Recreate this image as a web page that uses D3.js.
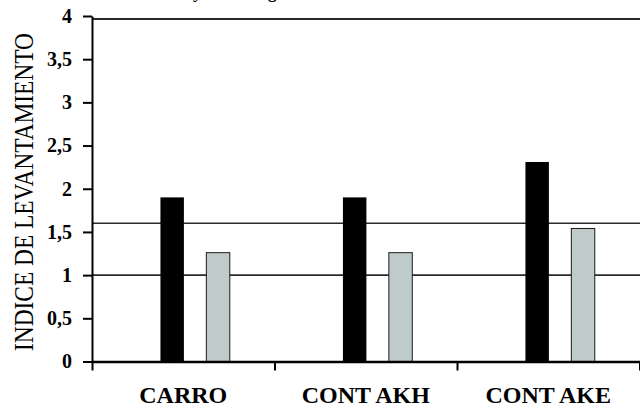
<!DOCTYPE html>
<html>
<head>
<meta charset="utf-8">
<script src="https://cdn.jsdelivr.net/npm/d3@7"></script>
<style>
    body { margin: 0; background: #fff; }
    svg { display: block; width: 640px; height: 412px; }
</style>
</head>
<body>
<svg></svg>
<script>
// Категории и значения
const categories = ["CARRO", "CONT AKH", "CONT AKE"];
const seriesKeys = ["s1", "s2"];
const valuesS1 = [1.9, 1.9, 2.31];
const valuesS2 = [1.26, 1.26, 1.54];
const refLines = [1, 1.6];
const yTicks = [0, 0.5, 1, 1.5, 2, 2.5, 3, 3.5, 4];
const titleText = "Índice de levantamiento y de la carga";
const yTitle = "INDICE DE LEVANTAMIENTO";

const seriesColor = { s1: "#000000", s2: "#bfcbcb" };

function buildData() {
    return categories.map((c, i) => ({
        labelX: c,
        values: { s1: valuesS1[i], s2: valuesS2[i] }
    }));
}

function drawGraph() {
    const data = buildData();
    const svg = d3.select("svg");
    svg.selectAll("*").remove();

    const attr_area = {
        left: 92,
        right: 639.5,
        top: 16,
        bottom: 361.5
    };

    const scX = d3.scaleBand()
        .domain(categories)
        .range([attr_area.left, attr_area.right])
        .padding(0);

    const bw = scX.bandwidth();
    const scInner = d3.scaleBand()
        .domain(seriesKeys)
        .range([bw * 0.375, bw * 0.755])
        .paddingInner(0.489)
        .paddingOuter(0);

    const scY = d3.scaleLinear()
        .domain([0, 4])
        .range([attr_area.bottom, attr_area.top]);

    // тонкие горизонтальные линии
    svg.selectAll(".ref")
        .data(refLines)
        .enter()
        .append("line")
        .attr("class", "ref")
        .attr("x1", attr_area.left)
        .attr("x2", 640)
        .attr("y1", d => scY(d))
        .attr("y2", d => scY(d))
        .style("stroke", "#2a2a2a")
        .style("stroke-width", 1.6);

    svg.append("line")
        .attr("x1", attr_area.left)
        .attr("x2", 640)
        .attr("y1", scY(4) + 3)
        .attr("y2", scY(4) + 3)
        .style("stroke", "#2a2a2a")
        .style("stroke-width", 2);

    // столбики
    const groups = svg.selectAll(".grp")
        .data(data)
        .enter()
        .append("g")
        .attr("class", "grp")
        .attr("transform", d => `translate(${scX(d.labelX)}, 0)`);

    groups.selectAll("rect")
        .data(d => seriesKeys.map(k => ({ key: k, value: d.values[k] })))
        .enter()
        .append("rect")
        .attr("x", d => scInner(d.key))
        .attr("y", d => scY(d.value))
        .attr("width", scInner.bandwidth())
        .attr("height", d => scY(0) - scY(d.value))
        .style("fill", d => seriesColor[d.key])
        .style("stroke", d => d.key === "s2" ? "#1a1a1a" : "none")
        .style("stroke-width", 1);

    // ось Y
    const axisY = d3.axisLeft(scY)
        .tickValues(yTicks)
        .tickSizeInner(9)
        .tickSizeOuter(0)
        .tickPadding(11)
        .tickFormat(d => String(d).replace(".", ","));

    const gY = svg.append("g")
        .attr("transform", `translate(${attr_area.left}, 0)`)
        .call(axisY);
    gY.select(".domain").style("stroke", "#000").style("stroke-width", 2);
    gY.selectAll(".tick line").style("stroke", "#000").style("stroke-width", 2);
    gY.selectAll("text")
        .style("font-family", "'Liberation Serif', serif")
        .style("font-weight", "bold")
        .style("font-size", "20px")
        .style("fill", "#000");

    // ось X: подписи по центру категорий
    const axisX = d3.axisBottom(scX)
        .tickSize(0)
        .tickPadding(24);
    const gX = svg.append("g")
        .attr("transform", `translate(0, ${attr_area.bottom})`)
        .call(axisX);
    gX.select(".domain").remove();
    gX.selectAll("text")
        .style("font-family", "'Liberation Serif', serif")
        .style("font-weight", "bold")
        .style("font-size", "24px")
        .style("fill", "#000");

    // засечки на границах категорий
    const scEdge = d3.scaleLinear()
        .domain([0, categories.length])
        .range([attr_area.left, attr_area.right]);
    const axisEdge = d3.axisBottom(scEdge)
        .tickValues(d3.range(categories.length + 1))
        .tickSizeInner(9)
        .tickSizeOuter(0)
        .tickFormat("");
    const gE = svg.append("g")
        .attr("transform", `translate(0, ${attr_area.bottom})`)
        .call(axisEdge);
    gE.select(".domain").style("stroke", "#000").style("stroke-width", 2.5);
    gE.selectAll(".tick line").style("stroke", "#000").style("stroke-width", 2);

    // подпись оси Y
    svg.append("text")
        .attr("transform", "translate(33, 192) rotate(-90)")
        .attr("text-anchor", "middle")
        .attr("textLength", 318)
        .attr("lengthAdjust", "spacingAndGlyphs")
        .style("font-family", "'Liberation Serif', serif")
        .style("font-size", "28px")
        .style("fill", "#000")
        .text(yTitle);

    // заголовок, обрезанный сверху
    const title = svg.append("text")
        .attr("y", -2)
        .style("font-family", "'Liberation Serif', serif")
        .style("font-weight", "bold")
        .style("font-size", "17px")
        .style("fill", "#000")
        .text(titleText);
    const yPos = titleText.indexOf(" y ") + 1;
    const pre = title.node().getSubStringLength(0, yPos);
    title.attr("x", 193 - pre);
}

drawGraph();
</script>
</body>
</html>
